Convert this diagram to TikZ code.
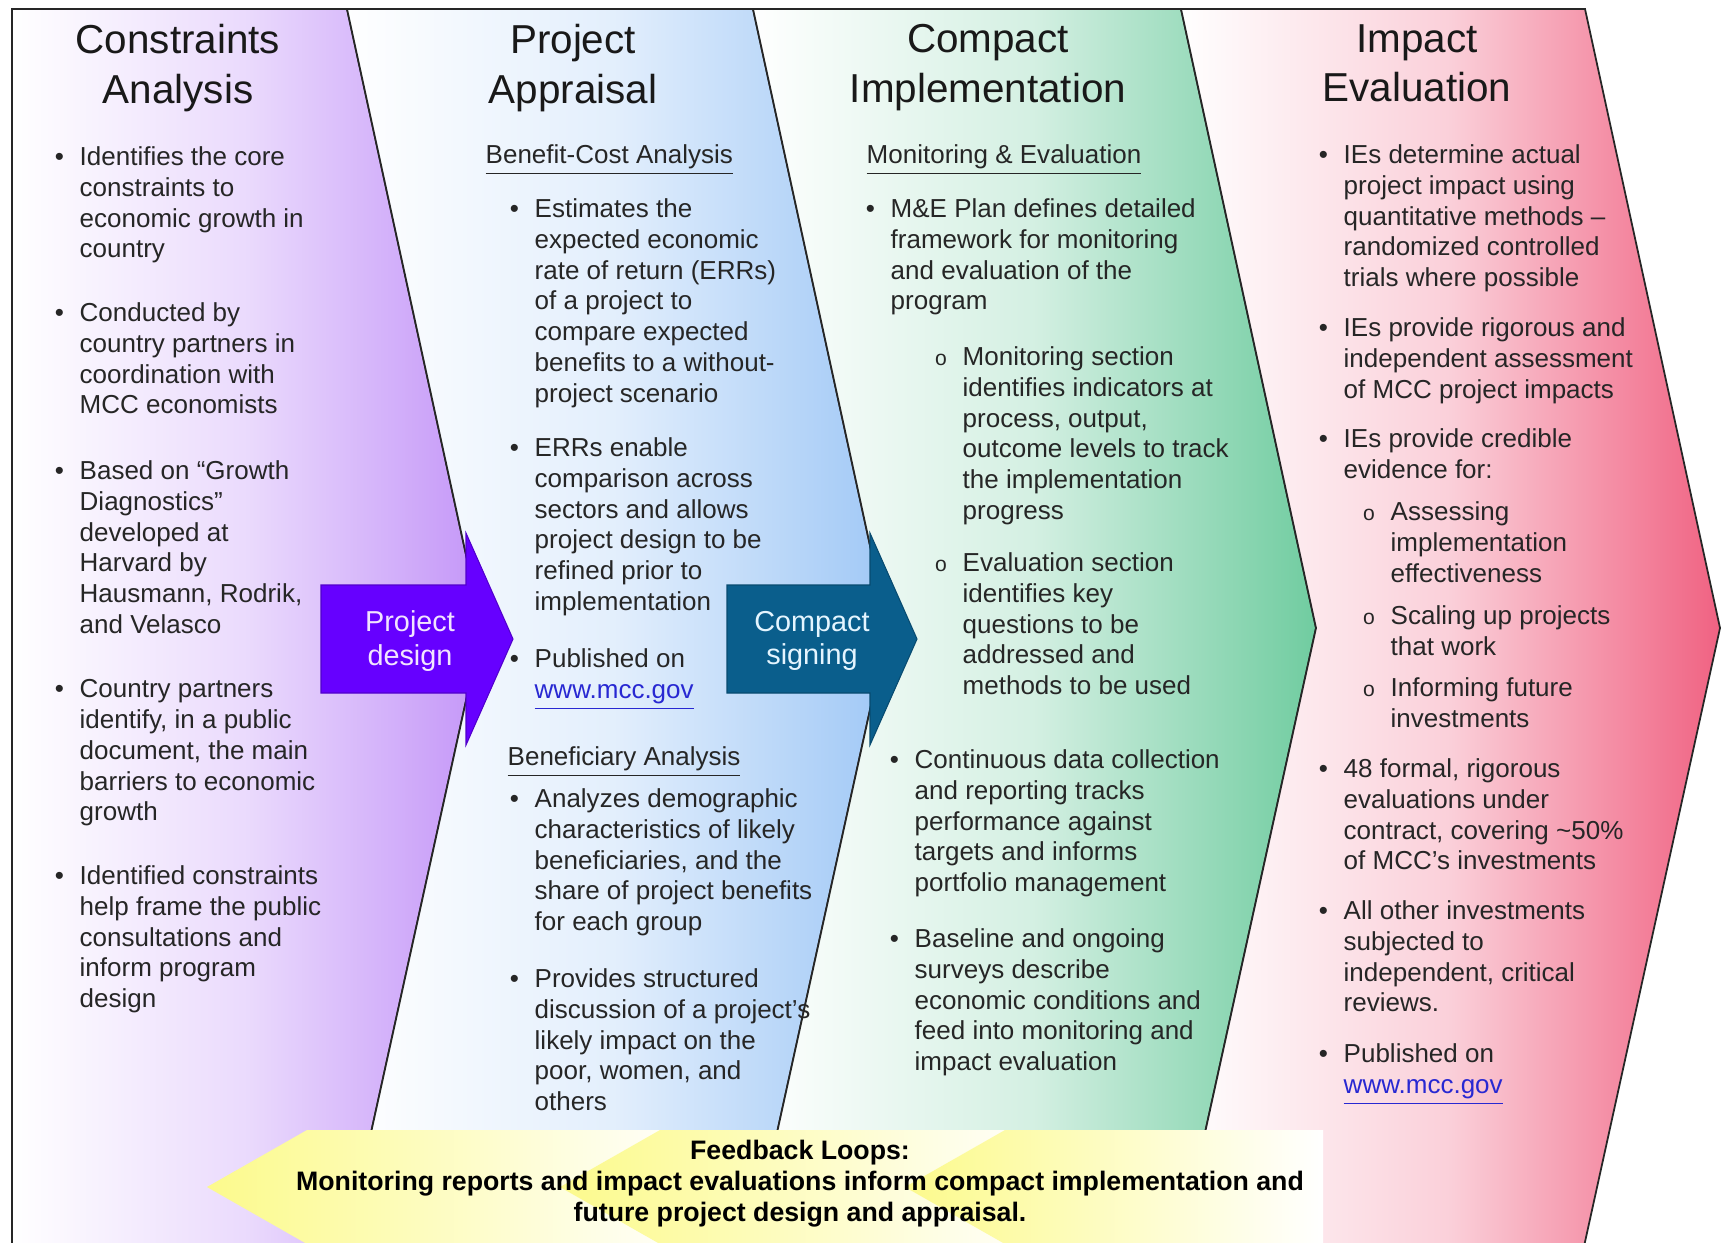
\documentclass[tikz,border=0pt]{standalone}
\usepackage{fontspec}
\setmainfont{Liberation Sans}
\usepackage{xcolor}
\usepackage{tikz}
\usetikzlibrary{positioning}
\definecolor{capurple}{RGB}{196,150,248}
\definecolor{pablue}{RGB}{160,200,246}
\definecolor{cigreen}{RGB}{112,204,160}
\definecolor{iepink}{RGB}{240,98,130}
\definecolor{pdviolet}{RGB}{102,0,255}
\definecolor{csteal}{RGB}{10,94,140}
\definecolor{fbyellow}{RGB}{252,250,140}
\definecolor{linkblue}{RGB}{40,40,210}
\newcommand{\itembul}{\llap{\textbullet\hspace{4.5pt}}}
\newcommand{\circbul}{\llap{{\fontsize{6}{6}\selectfont o}\hspace{4.5pt}}}
\newcommand{\mcclink}{\textcolor{linkblue}{\underline{www.mcc.gov}}}
\tikzset{
    panel/.style = {draw=black!85, line width=0.5pt},
    paneltitle/.style = {anchor=north, align=center, inner sep=0pt, text=black!90, font=\fontsize{11.5}{14}\selectfont, execute at begin node=\strut},
    itemtext/.style = {anchor=north west, align=left, inner sep=0pt, text=black!85, font=\fontsize{7.4}{8.75}\selectfont, execute at begin node=\strut},
    subhead/.style = {itemtext},
    stagearrow/.style = {draw=#1!80!black, line width=0.3pt, fill=#1},
    arrowtext/.style = {align=center, inner sep=0pt, font=\fontsize{8.2}{9.6}\selectfont},
    fbloop/.style = {left color=fbyellow, right color=white},
}
\begin{document}
\begin{tikzpicture}[x=0.1mm, y=-0.1mm, line join=miter]
\clip (0,0) rectangle (1722,1242);
\fill[white] (0,0) rectangle (1722,1242);
%
\path[panel, left color=white, right color=capurple, middle color=capurple!35]
    (12,9) -- (347,9) -- (482,628) -- (343,1260) -- (12,1260) -- cycle;
\path[panel, left color=white, right color=pablue, middle color=pablue!30]
    (347,9) -- (753,9) -- (888,628) -- (749,1260) -- (343,1260) -- (482,628) -- cycle;
\path[panel, left color=white, right color=cigreen, middle color=cigreen!30]
    (753,9) -- (1181,9) -- (1316,628) -- (1177,1260) -- (749,1260) -- (888,628) -- cycle;
\path[panel, left color=white, right color=iepink, middle color=iepink!30]
    (1181,9) -- (1585,9) -- (1720,628) -- (1581,1260) -- (1177,1260) -- (1316,628) -- cycle;
%
\path[stagearrow=pdviolet] (321,585) -- (466,585) -- (466,533) -- (513,639) -- (466,745) -- (466,693) -- (321,693) -- cycle;
\path[stagearrow=csteal] (727,585) -- (870,585) -- (870,533) -- (917,639) -- (870,745) -- (870,693) -- (727,693) -- cycle;
\node[arrowtext, text={rgb,255:red,242;green,228;blue,255}] (pdesign) at (410,641) {Project\\design};
\node[arrowtext, text={rgb,255:red,228;green,245;blue,255}] (csign) at (812,641) {Compact\\signing};
%
\path[fbloop] (207,1187) -- (307,1130) -- (700,1130) -- (700,1260) -- (335,1260) -- cycle;
\path[fbloop] (560,1187) -- (660,1130) -- (1050,1130) -- (1050,1260) -- (688,1260) -- cycle;
\path[fbloop] (905,1187) -- (1005,1130) -- (1323,1130) -- (1323,1260) -- (1033,1260) -- cycle;
\node[align=center, inner sep=0pt, font=\fontsize{7.6}{8.8}\selectfont\bfseries] (feedback) at (800,1184)
    {Feedback Loops:\\Monitoring reports and impact evaluations inform compact implementation and\\future project design and appraisal.};
%
\node[paneltitle] (ca) at (178,24) {Constraints\\Analysis};
\node[paneltitle] (pa) at (573,24) {Project\\Appraisal};
\node[paneltitle] (ci) at (988,24) {Compact\\Implementation};
\node[paneltitle] (ie) at (1417,24) {Impact\\Evaluation};
%
\node[itemtext] (ca1) at (79,146) {\itembul Identifies the core\\constraints to\\economic growth in\\country};
\node[itemtext] (ca2) at (79,302) {\itembul Conducted by\\country partners in\\coordination with\\MCC economists};
\node[itemtext] (ca3) at (79,460) {\itembul Based on “Growth\\Diagnostics”\\developed at\\Harvard by\\Hausmann, Rodrik,\\and Velasco};
\node[itemtext] (ca4) at (79,679) {\itembul Country partners\\identify, in a public\\document, the main\\barriers to economic\\growth};
\node[itemtext] (ca5) at (79,865) {\itembul Identified constraints\\help frame the public\\consultations and\\inform program\\design};
%
\node[subhead] (bca) at (485,141) {\underline{Benefit-Cost Analysis}};
\node[itemtext] (pa1) at (534,198) {\itembul Estimates the\\expected economic\\rate of return (ERRs)\\of a project to\\compare expected\\benefits to a without-\\project scenario};
\node[itemtext] (pa2) at (534,437) {\itembul ERRs enable\\comparison across\\sectors and allows\\project design to be\\refined prior to\\implementation};
\node[itemtext] (pa3) at (534,648) {\itembul Published on\\\mcclink};
\node[subhead] (bfa) at (507,743) {\underline{Beneficiary Analysis}};
\node[itemtext] (pa4) at (534,788) {\itembul Analyzes demographic\\characteristics of likely\\beneficiaries, and the\\share of project benefits\\for each group};
\node[itemtext] (pa5) at (534,968) {\itembul Provides structured\\discussion of a project’s\\likely impact on the\\poor, women, and\\others};
%
\node[subhead] (mande) at (866,141) {\underline{Monitoring \& Evaluation}};
\node[itemtext] (ci1) at (890,198) {\itembul M\&E Plan defines detailed\\framework for monitoring\\and evaluation of the\\program};
\node[itemtext] (ci1a) at (962,346) {\circbul Monitoring section\\identifies indicators at\\process, output,\\outcome levels to track\\the implementation\\progress};
\node[itemtext] (ci1b) at (962,552) {\circbul Evaluation section\\identifies key\\questions to be\\addressed and\\methods to be used};
\node[itemtext] (ci2) at (914,749) {\itembul Continuous data collection\\and reporting tracks\\performance against\\targets and informs\\portfolio management};
\node[itemtext] (ci3) at (914,928) {\itembul Baseline and ongoing\\surveys describe\\economic conditions and\\feed into monitoring and\\impact evaluation};
%
\node[itemtext] (ie1) at (1343,144) {\itembul IEs determine actual\\project impact using\\quantitative methods –\\randomized controlled\\trials where possible};
\node[itemtext] (ie2) at (1343,317) {\itembul IEs provide rigorous and\\independent assessment\\of MCC project impacts};
\node[itemtext] (ie3) at (1343,428) {\itembul IEs provide credible\\evidence for:};
\node[itemtext] (ie3a) at (1390,501) {\circbul Assessing\\implementation\\effectiveness};
\node[itemtext] (ie3b) at (1390,605) {\circbul Scaling up projects\\that work};
\node[itemtext] (ie3c) at (1390,677) {\circbul Informing future\\investments};
\node[itemtext] (ie4) at (1343,758) {\itembul 48 formal, rigorous\\evaluations under\\contract, covering \textasciitilde 50\%\\of MCC’s investments};
\node[itemtext] (ie5) at (1343,900) {\itembul All other investments\\subjected to\\independent, critical\\reviews.};
\node[itemtext] (ie6) at (1343,1043) {\itembul Published on\\\mcclink};
\end{tikzpicture}
\end{document}
